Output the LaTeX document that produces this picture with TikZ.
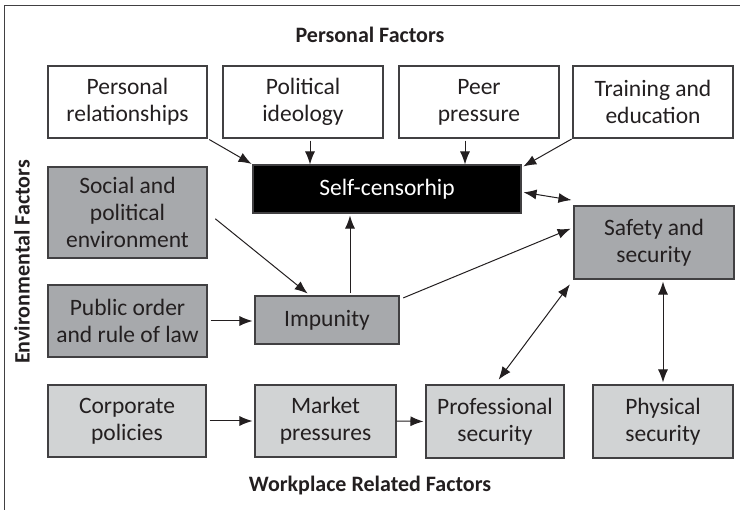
\documentclass[tikz,border=0pt]{standalone}
\usepackage{fontspec}
\setmainfont{Carlito}
\usetikzlibrary{arrows.meta}
\definecolor{ink}{HTML}{231F20}
\definecolor{rim}{HTML}{414042}
\definecolor{sombre}{HTML}{A7A9AC}
\definecolor{clair}{HTML}{D1D3D4}
\begin{document}
\begin{tikzpicture}[x=1pt,y=-1pt,font=\fontsize{23.5}{27}\selectfont,text=ink]
            \tikzstyle{facteur}=[draw=rim,line width=1.1pt,align=center,inner sep=0pt,minimum width=159pt,minimum height=72pt]
            \tikzstyle{titre}=[font=\fontsize{22}{27}\selectfont\bfseries]
            \tikzset{edge/.style = {-{Latex[length=13pt,width=10pt]},line width=1pt,draw=ink}}
            \tikzset{dedge/.style = {{Latex[length=13pt,width=10pt]}-{Latex[length=13pt,width=10pt]},line width=1pt,draw=ink}}
            \useasboundingbox (0,0) rectangle (740,510);
            \draw[rim,line width=1pt] (740,6) -- (4,6) -- (4,510);
            % personal factors
            \node[facteur] (1) at (127.5,102) {Personal\\relationships};
            \node[facteur,minimum width=160pt] (2) at (303,102) {Political\\ideology};
            \node[facteur,minimum width=160pt] (3) at (479,102) {Peer\\pressure};
            \node[facteur,minimum width=160pt] (4) at (653,102) {Training and\\education};
            \node[facteur,fill=black,text=white,minimum width=268pt,minimum height=48pt] (5) at (387,189) {Self-censorhip};
            % environmental factors
            \node[facteur,fill=sombre,minimum height=91pt] (6) at (127.5,212.5) {Social and\\political\\environment};
            \node[facteur,fill=sombre,minimum width=144pt,minimum height=48pt] (7) at (327,320) {Impunity};
            \node[facteur,fill=sombre] (8) at (127.5,321) {Public order\\and rule of law};
            \node[facteur,fill=sombre,minimum width=160pt,minimum height=73pt] (9) at (654,242.5) {Safety and\\security};
            % workplace related factors
            \node[facteur,fill=clair,minimum width=158pt] (10) at (127,421) {Corporate\\policies};
            \node[facteur,fill=clair,minimum width=141pt] (11) at (325.5,421) {Market\\pressures};
            \node[facteur,fill=clair,minimum width=138pt,minimum height=73pt] (12) at (495,421.5) {Professional\\security};
            \node[facteur,fill=clair,minimum width=140pt,minimum height=73pt] (13) at (663,421.5) {Physical\\security};
            \draw[edge,shorten <=2pt,shorten >=1pt] (1.south east) -- (5.north west);
            \draw[edge,shorten <=2pt] ([xshift=7pt]2.south) -- ([xshift=7pt]2.south |- 5.north);
            \draw[edge,shorten <=2pt] ([xshift=-14pt]3.south) -- ([xshift=-14pt]3.south |- 5.north);
            \draw[edge,shorten <=1pt,shorten >=2pt] (4.south west) -- ([yshift=-3pt]5.north east);
            \draw[dedge,shorten <=2pt,shorten >=2pt] ([yshift=-3pt]5.east) -- ([yshift=5pt]9.north west);
            \draw[edge,shorten <=10pt,shorten >=3pt] (6.east) -- ([xshift=-17pt]7.north);
            \draw[edge,shorten <=2pt,shorten >=2pt] ([xshift=23pt]7.north) -- ([xshift=23pt]7.north |- 5.south);
            \draw[edge,shorten <=4pt,shorten >=3pt] ([yshift=-4pt]7.north east) -- ([yshift=15pt]9.west);
            \draw[edge,shorten <=3pt,shorten >=2pt] (8.east) -- (8.east -| 7.west);
            \draw[edge,shorten <=3pt,shorten >=2pt] (10.east) -- (11.west);
            \draw[edge,shorten >=2pt] (11.east) -- (12.west);
            \draw[dedge,shorten <=6pt,shorten >=6pt] (12.north) -- (9.south west);
            \draw[dedge,shorten <=2pt,shorten >=2pt] (13.north) -- (13.north |- 9.south);
            \node[titre] (p) at (370,35) {Personal Factors};
            \node[titre] (w) at (370,486) {Workplace Related Factors};
            \node[titre,rotate=90] (e) at (22,262) {Environmental Factors};
        \end{tikzpicture}
\end{document}
